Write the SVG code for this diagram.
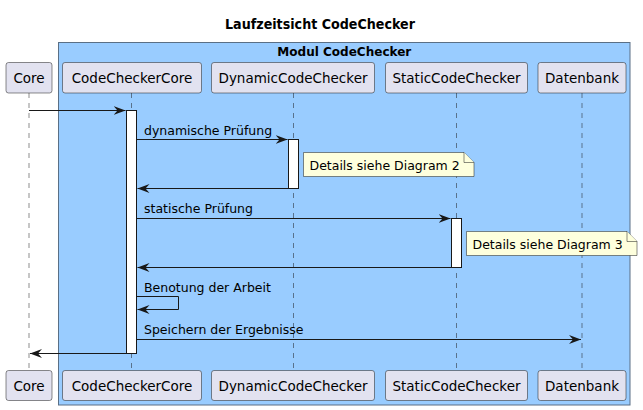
<svg xmlns="http://www.w3.org/2000/svg" width="643" height="410" viewBox="0 0 643 410">
<style>
text{font-family:"DejaVu Sans","Liberation Sans",sans-serif;fill:#000}
.part rect{fill:#E2E2F0;stroke:#181818;stroke-width:0.5}
.part text{font-size:13.5px;text-anchor:middle}
.life{stroke:#181818;stroke-width:0.5;stroke-dasharray:5,5}
.act{fill:#fff;stroke:#181818;stroke-width:1}
.msg{stroke:#181818;stroke-width:1;fill:none;marker-end:url(#ah)}
.lbl{font-size:12.5px}
.note path{fill:#FEFFDD;stroke:#181818;stroke-width:0.5}
.note text{font-size:12.5px}
</style>
<defs>
<marker id="ah" markerUnits="userSpaceOnUse" markerWidth="14" markerHeight="12" refX="12" refY="5" orient="auto">
<path d="M0,0.5 L12,5 L0,9.5 L4,5 Z" fill="#181818"/>
</marker>
</defs>
<rect x="0" y="0" width="643" height="410" fill="#fff"/>
<text x="320" y="29" font-size="14" font-weight="bold" text-anchor="middle" textLength="190" lengthAdjust="spacingAndGlyphs">Laufzeitsicht CodeChecker</text>
<g id="box">
<rect x="58.5" y="42.5" width="571.5" height="362.5" fill="#99CCFF" stroke="#5A6F85" stroke-width="1"/>
<text x="344.3" y="56" font-size="13" font-weight="bold" text-anchor="middle" textLength="134" lengthAdjust="spacingAndGlyphs">Modul CodeChecker</text>
</g>
<g id="lifelines">
<line class="life" x1="29" y1="93" x2="29" y2="371"/>
<line class="life" x1="131.5" y1="93" x2="131.5" y2="371"/>
<line class="life" x1="293.5" y1="93" x2="293.5" y2="371"/>
<line class="life" x1="456.5" y1="93" x2="456.5" y2="371"/>
<line class="life" x1="582" y1="93" x2="582" y2="371"/>
</g>
<g id="core" class="part">
<rect x="6" y="62.5" width="46" height="30.5" rx="2.5"/><text x="29" y="83">Core</text>
<rect x="6" y="370.5" width="46" height="30" rx="2.5"/><text x="29" y="391">Core</text>
</g>
<g id="codecheckercore" class="part">
<rect x="62.5" y="62.5" width="139" height="30.5" rx="2.5"/><text x="132" y="83">CodeCheckerCore</text>
<rect x="62.5" y="370.5" width="139" height="30" rx="2.5"/><text x="132" y="391">CodeCheckerCore</text>
</g>
<g id="dynamiccodechecker" class="part">
<rect x="211.5" y="62.5" width="163" height="30.5" rx="2.5"/><text x="293" y="83">DynamicCodeChecker</text>
<rect x="211.5" y="370.5" width="163" height="30" rx="2.5"/><text x="293" y="391">DynamicCodeChecker</text>
</g>
<g id="staticcodechecker" class="part">
<rect x="385.5" y="62.5" width="142" height="30.5" rx="2.5"/><text x="456.5" y="83">StaticCodeChecker</text>
<rect x="385.5" y="370.5" width="142" height="30" rx="2.5"/><text x="456.5" y="391">StaticCodeChecker</text>
</g>
<g id="datenbank" class="part">
<rect x="538" y="62.5" width="88" height="30.5" rx="2.5"/><text x="582" y="83">Datenbank</text>
<rect x="538" y="370.5" width="88" height="30" rx="2.5"/><text x="582" y="391">Datenbank</text>
</g>
<g id="activations">
<rect class="act" x="126.5" y="110.5" width="10" height="243"/>
<rect class="act" x="288.5" y="139.5" width="10" height="49"/>
<rect class="act" x="451.5" y="218.5" width="10" height="49"/>
</g>
<g id="connectors">
<line class="msg" x1="29" y1="110.5" x2="125.5" y2="110.5"/>
<line class="msg" x1="136.5" y1="139.5" x2="287.5" y2="139.5"/>
<line class="msg" x1="288.5" y1="188.5" x2="137.5" y2="188.5"/>
<line class="msg" x1="136.5" y1="218.5" x2="450.5" y2="218.5"/>
<line class="msg" x1="451.5" y1="267.5" x2="137.5" y2="267.5"/>
<polyline class="msg" points="136.5,296.5 178.5,296.5 178.5,309.5 137.5,309.5"/>
<line class="msg" x1="136.5" y1="339.5" x2="581" y2="339.5"/>
<line class="msg" x1="126.5" y1="353.5" x2="30" y2="353.5"/>
<text class="lbl" x="144" y="134.5">dynamische Prüfung</text>
<text class="lbl" x="144" y="213">statische Prüfung</text>
<text class="lbl" x="144" y="292">Benotung der Arbeit</text>
<text class="lbl" x="144" y="334">Speichern der Ergebnisse</text>
</g>
<g id="note1" class="note">
<path d="M303.5,152.5 L464,152.5 L474,162.5 L474,176.5 L303.5,176.5 Z"/>
<path d="M464,152.5 L464,162.5 L474,162.5" fill="none"/>
<text x="309.5" y="169.5">Details siehe Diagram 2</text>
</g>
<g id="note2" class="note">
<path d="M466.5,231.5 L627,231.5 L637,241.5 L637,255.5 L466.5,255.5 Z"/>
<path d="M627,231.5 L627,241.5 L637,241.5" fill="none"/>
<text x="472.5" y="248.5">Details siehe Diagram 3</text>
</g>
</svg>
